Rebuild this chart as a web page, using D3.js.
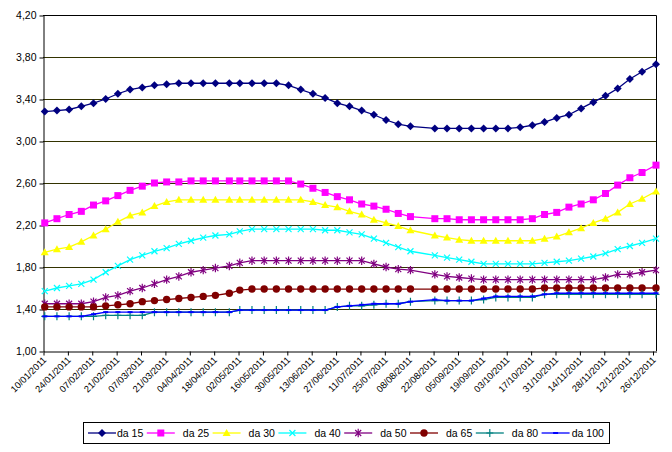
<!DOCTYPE html>
<html><head><meta charset="utf-8">
<script src="https://cdn.jsdelivr.net/npm/d3@7"></script>
<style>body{margin:0;background:#fff}svg{display:block}</style>
</head><body><svg id="c" width="672" height="452"></svg>
<script>
// ---------- data ----------
const dates = ["11/01/2011","18/01/2011","25/01/2011","01/02/2011","08/02/2011","15/02/2011","22/02/2011","01/03/2011","08/03/2011","15/03/2011",
"22/03/2011","29/03/2011","05/04/2011","12/04/2011","19/04/2011","27/04/2011","03/05/2011","10/05/2011","17/05/2011","24/05/2011",
"31/05/2011","07/06/2011","14/06/2011","21/06/2011","28/06/2011","05/07/2011","12/07/2011","19/07/2011","26/07/2011","02/08/2011",
"09/08/2011","23/08/2011","30/08/2011","06/09/2011","13/09/2011","20/09/2011","27/09/2011","04/10/2011","11/10/2011","18/10/2011",
"25/10/2011","01/11/2011","08/11/2011","15/11/2011","22/11/2011","29/11/2011","06/12/2011","13/12/2011","20/12/2011","28/12/2011"];

const tickLabels = ["10/01/2011","24/01/2011","07/02/2011","21/02/2011","07/03/2011","21/03/2011","04/04/2011","18/04/2011","02/05/2011",
"16/05/2011","30/05/2011","13/06/2011","27/06/2011","11/07/2011","25/07/2011","08/08/2011","22/08/2011","05/09/2011","19/09/2011",
"03/10/2011","17/10/2011","31/10/2011","14/11/2011","28/11/2011","12/12/2011","26/12/2011"];
const axisStart = "10/01/2011", axisEnd = "28/12/2011";

const yTicks = [1.00,1.40,1.80,2.20,2.60,3.00,3.40,3.80,4.20];

const da15 = [3.28,3.29,3.30,3.33,3.36,3.40,3.45,3.49,3.51,3.53,3.54,3.55,3.55,3.55,3.55,3.55,3.55,3.55,3.55,3.55,
3.53,3.49,3.45,3.41,3.36,3.33,3.29,3.25,3.20,3.16,3.14,3.12,3.12,3.12,3.12,3.12,3.12,3.12,3.13,3.15,
3.18,3.22,3.25,3.31,3.37,3.43,3.50,3.59,3.66,3.73];
const da25 = [2.22,2.26,2.30,2.33,2.39,2.43,2.48,2.53,2.57,2.60,2.61,2.61,2.62,2.62,2.62,2.62,2.62,2.62,2.62,2.62,
2.62,2.59,2.55,2.51,2.47,2.44,2.40,2.38,2.35,2.31,2.28,2.26,2.26,2.25,2.25,2.25,2.25,2.25,2.25,2.26,
2.30,2.32,2.37,2.40,2.44,2.50,2.58,2.65,2.70,2.77];
const da30 = [1.94,1.97,1.99,2.04,2.10,2.16,2.23,2.29,2.32,2.38,2.42,2.44,2.44,2.44,2.44,2.44,2.44,2.44,2.44,2.44,
2.44,2.44,2.42,2.39,2.37,2.33,2.30,2.25,2.22,2.19,2.15,2.10,2.08,2.06,2.05,2.05,2.05,2.05,2.05,2.05,
2.07,2.09,2.13,2.17,2.22,2.26,2.32,2.40,2.45,2.52];
const da40 = [1.57,1.60,1.62,1.64,1.68,1.75,1.81,1.87,1.91,1.95,1.98,2.02,2.05,2.08,2.10,2.11,2.14,2.16,2.16,2.16,
2.16,2.16,2.16,2.15,2.15,2.13,2.11,2.07,2.03,1.99,1.95,1.91,1.89,1.87,1.85,1.83,1.83,1.83,1.83,1.83,
1.84,1.85,1.86,1.88,1.90,1.93,1.97,2.00,2.03,2.07];
const da50 = [1.45,1.45,1.45,1.45,1.47,1.51,1.53,1.57,1.60,1.64,1.68,1.71,1.75,1.77,1.79,1.81,1.84,1.86,1.86,1.86,
1.86,1.86,1.86,1.86,1.86,1.86,1.86,1.83,1.80,1.78,1.77,1.73,1.71,1.70,1.69,1.68,1.68,1.68,1.68,1.68,
1.68,1.68,1.68,1.68,1.68,1.70,1.73,1.73,1.75,1.77];
const da65 = [1.42,1.42,1.42,1.42,1.42,1.43,1.44,1.45,1.47,1.48,1.49,1.50,1.51,1.52,1.53,1.55,1.58,1.59,1.59,1.59,
1.59,1.59,1.59,1.59,1.59,1.59,1.59,1.59,1.59,1.59,1.59,1.59,1.59,1.59,1.59,1.59,1.59,1.59,1.59,1.59,
1.60,1.60,1.60,1.60,1.60,1.60,1.60,1.60,1.60,1.60];
const da80 = [1.33,1.33,1.33,1.33,1.33,1.34,1.34,1.34,1.34,1.37,1.37,1.37,1.37,1.37,1.37,1.37,1.39,1.39,1.39,1.39,
1.39,1.39,1.39,1.39,1.42,1.43,1.43,1.44,1.45,1.45,1.47,1.48,1.48,1.48,1.48,1.49,1.51,1.51,1.51,1.51,
1.54,1.54,1.54,1.54,1.54,1.54,1.54,1.54,1.54,1.54];
const da100 = [1.33,1.33,1.33,1.33,1.35,1.37,1.37,1.37,1.37,1.37,1.37,1.37,1.37,1.37,1.37,1.37,1.39,1.39,1.39,1.39,
1.39,1.39,1.39,1.39,1.42,1.43,1.44,1.45,1.45,1.45,1.47,1.49,1.48,1.48,1.48,1.50,1.52,1.52,1.52,1.52,
1.54,1.55,1.55,1.55,1.55,1.55,1.55,1.55,1.55,1.55];

const seriesNames = ["da 15","da 25","da 30","da 40","da 50","da 65","da 80","da 100"];
const seriesValues = [da15,da25,da30,da40,da50,da65,da80,da100];
const seriesColors = ["#000080","#FF00FF","#FFFF00","#00FFFF","#800080","#800000","#008080","#0000FF"];
const seriesMarkers = ["diamond","square","triangle","x","star","circle","plus","dash"];

// ---------- chart ----------
const svg = d3.select("#c");
const parse = d3.timeParse("%d/%m/%Y");
const fmtY = v => v.toFixed(2).replace(".", ",");
const L = 43, R = 656, T = 15, B = 351;

const x = d3.scaleTime().domain([parse(axisStart), parse(axisEnd)]).range([L, R]);
const y = d3.scaleLinear().domain([1, 4.2]).range([B, T]);

svg.append("rect").attr("width",672).attr("height",452).attr("fill","#fff");

// gridlines
svg.append("g").selectAll("line").data(yTicks.filter(v => v > 1.001)).join("line")
  .attr("x1", L).attr("x2", R)
  .attr("y1", d => Math.round(y(d)) + 0.5).attr("y2", d => Math.round(y(d)) + 0.5)
  .attr("stroke", "#333300").attr("stroke-width", 1);

// plot border top/right
svg.append("path").attr("d", `M${L},${T+0.5}H${R+0.5}V${B}`).attr("fill","none").attr("stroke","#000").attr("stroke-width",1);

// y axis
const yAxis = d3.axisLeft(y).tickValues(yTicks).tickFormat(fmtY).tickSize(4).tickSizeOuter(0);
const gy = svg.append("g").attr("transform", `translate(${L+0.5},0.5)`).call(yAxis);
gy.select(".domain").attr("stroke","#000");
gy.selectAll(".tick line").attr("stroke","#000");
gy.selectAll(".tick text").attr("x",-7).attr("fill","#000").style("font-family","Liberation Sans, Arial, sans-serif").style("font-size","10.5px");

// x axis
const tickDates = tickLabels.map(parse);
const xAxis = d3.axisBottom(x).tickValues(tickDates).tickFormat((d,i) => tickLabels[i]).tickSize(4).tickSizeOuter(0);
const gx = svg.append("g").attr("transform", `translate(0.5,${B+0.5})`).call(xAxis);
gx.select(".domain").attr("stroke","#000");
gx.selectAll(".tick line").attr("stroke","#000");
gx.selectAll(".tick text")
  .attr("text-anchor","end").attr("x",0).attr("y",0).attr("dy",0)
  .attr("transform","translate(3,9) rotate(-45)")
  .attr("fill","#000")
  .style("font-family","Liberation Sans, Arial, sans-serif").style("font-size","9.3px");

// markers
function marker(g, type, color) {
  switch (type) {
    case "diamond": g.append("path").attr("d","M0,-4L4,0L0,4L-4,0Z").attr("fill",color); break;
    case "square": g.append("rect").attr("x",-3.5).attr("y",-3.5).attr("width",7).attr("height",7).attr("fill",color); break;
    case "triangle": g.append("path").attr("d","M0,-4L4,3L-4,3Z").attr("fill",color); break;
    case "x": g.append("path").attr("d","M-3,-3L3,3M-3,3L3,-3").attr("stroke",color).attr("stroke-width",1.2).attr("fill","none"); break;
    case "star": g.append("path").attr("d","M-3,-3L3,3M-3,3L3,-3M0,-4.2L0,4.2").attr("stroke",color).attr("stroke-width",1.2).attr("fill","none"); break;
    case "circle": g.append("circle").attr("r",3.7).attr("fill",color); break;
    case "plus": g.append("path").attr("d","M-3.5,0L3.5,0M0,-4L0,4").attr("stroke",color).attr("stroke-width",1.2).attr("fill","none"); break;
    case "dash": g.append("rect").attr("x",-2.5).attr("y",-1).attr("width",5).attr("height",2).attr("fill",color); break;
  }
}

const line = d3.line().x(d => x(d.date)).y(d => y(d.v));
seriesNames.forEach((name, s) => {
  const pts = seriesValues[s].map((v,i) => ({date: parse(dates[i]), v}));
  const g = svg.append("g");
  g.append("path").datum(pts).attr("d", line).attr("fill","none")
    .attr("stroke", seriesColors[s]).attr("stroke-width", 1.3);
  g.selectAll("g.m").data(pts).join("g").attr("class","m")
    .attr("transform", d => `translate(${x(d.date)},${y(d.v)})`)
    .each(function(){ marker(d3.select(this), seriesMarkers[s], seriesColors[s]); });
});

// legend
const leg = svg.append("g");
leg.append("rect").attr("x",83.5).attr("y",422.5).attr("width",526).attr("height",21)
  .attr("fill","#fff").attr("stroke","#000").attr("stroke-width",1);
const step = 65.8, cy = 433;
seriesNames.forEach((name, s) => {
  const textEnd = 143.3 + step * s;
  const x0 = s === 0 ? 88 : 146.8 + step * (s - 1);
  const gi = leg.append("g");
  gi.append("line").attr("x1",x0).attr("x2",x0+28).attr("y1",cy).attr("y2",cy)
    .attr("stroke",seriesColors[s]).attr("stroke-width",1.3);
  const mg = gi.append("g").attr("transform",`translate(${x0+14},${cy})`);
  marker(mg, seriesMarkers[s], seriesColors[s]);
  gi.append("text").attr("x",textEnd).attr("y",cy+4).attr("text-anchor","end")
    .attr("fill","#000").style("font-family","Liberation Sans, Arial, sans-serif").style("font-size","10.5px")
    .text(name);
});
</script>
</body></html>
